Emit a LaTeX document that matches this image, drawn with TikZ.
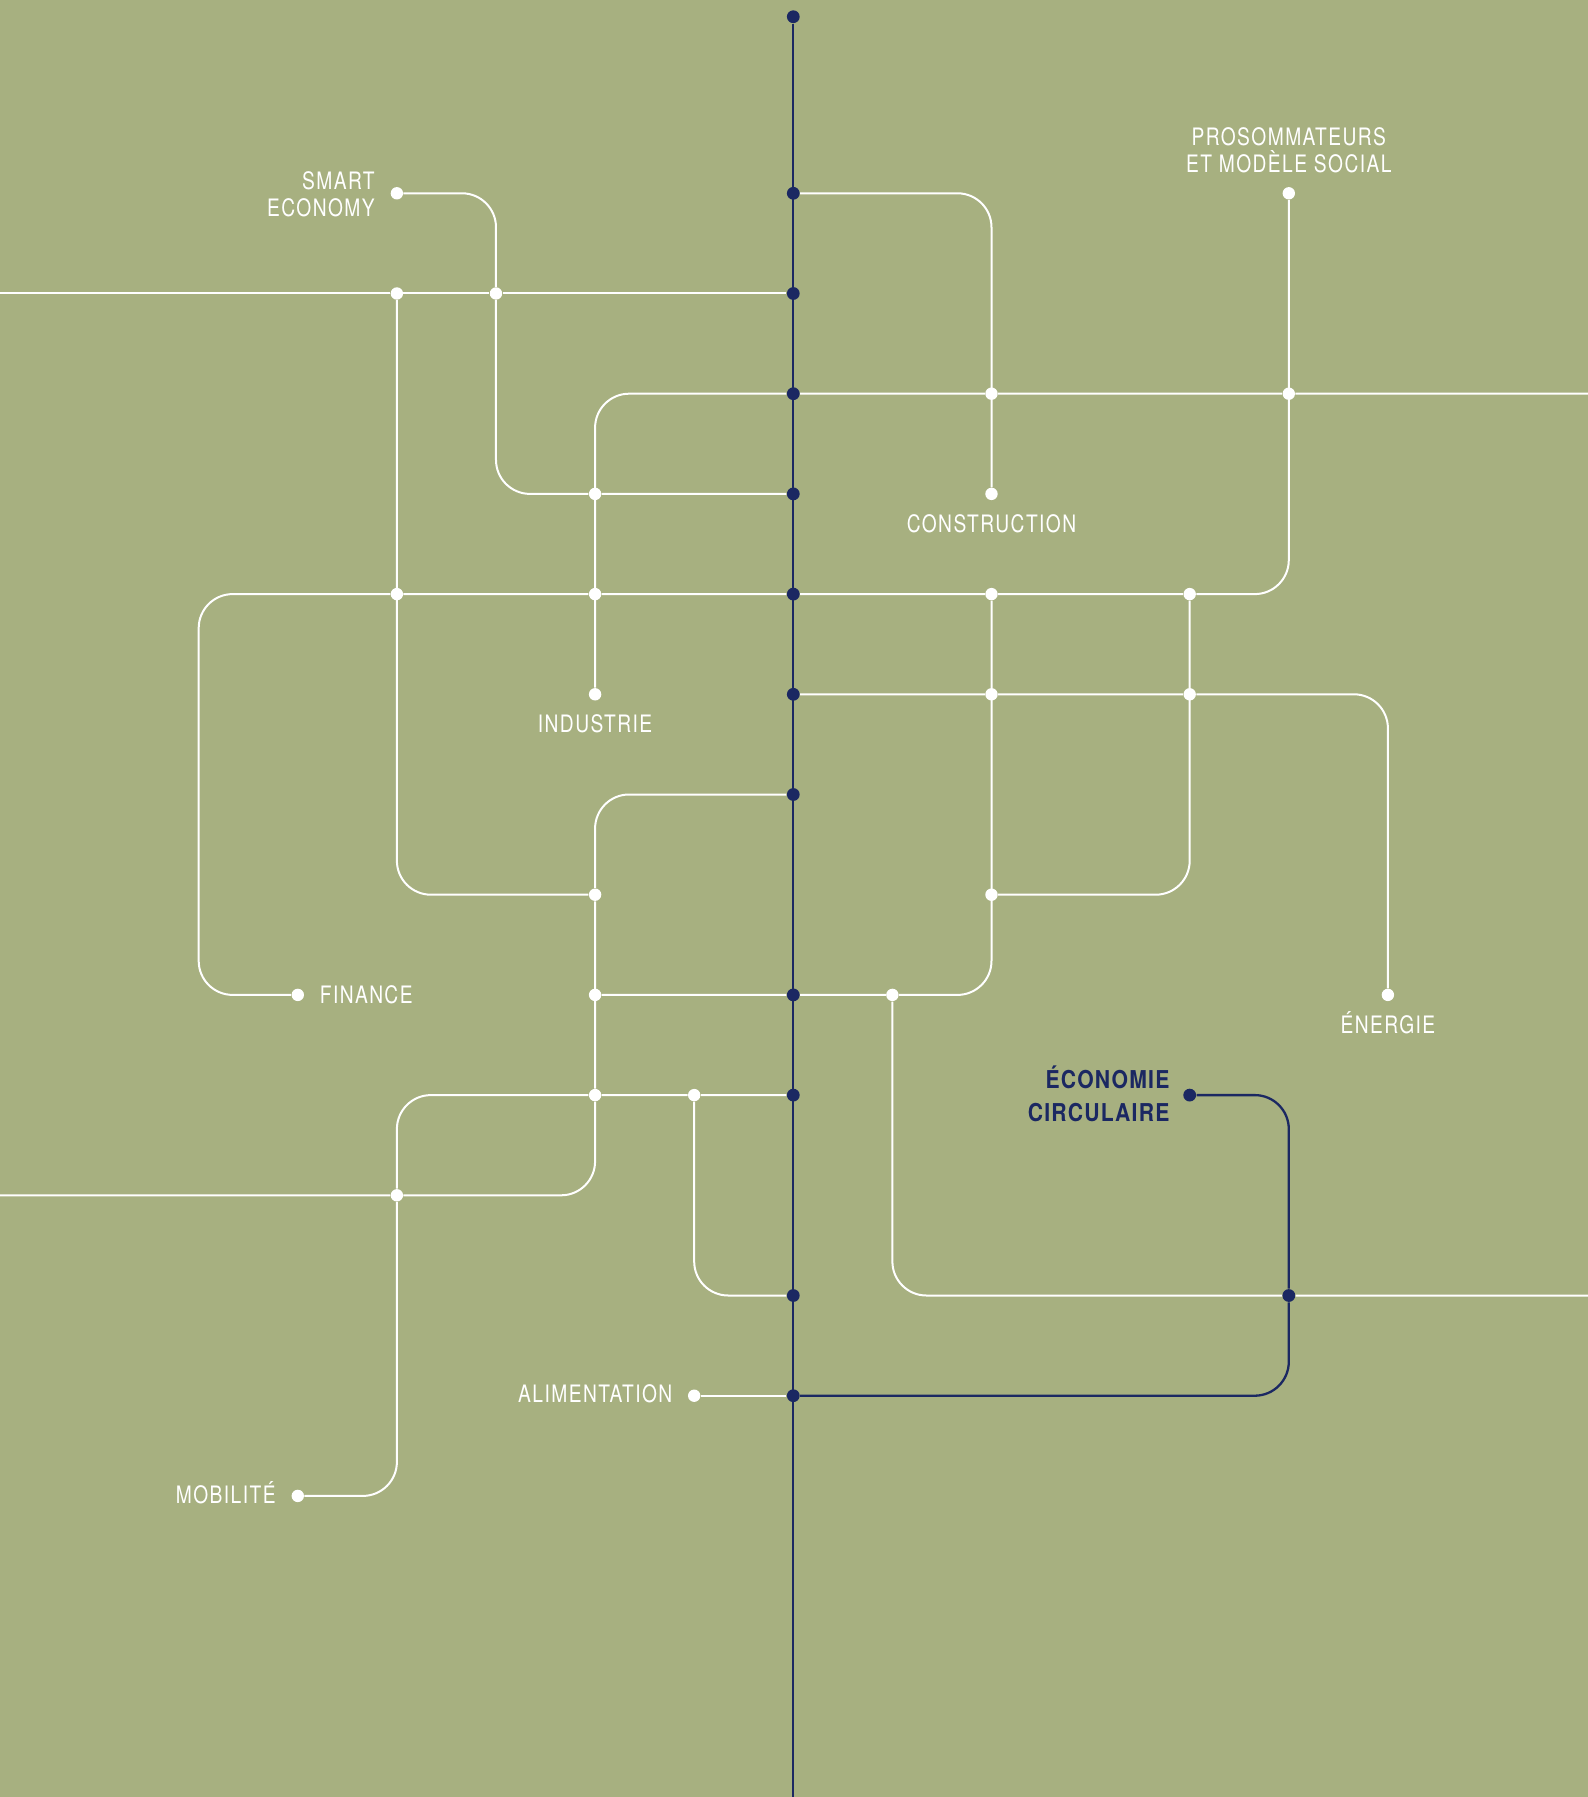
\documentclass[tikz,border=0pt]{standalone}
\usepackage{fontspec}
\newfontfamily\labelfont[FakeStretch=0.8,LetterSpace=6,BoldFeatures={FakeStretch=0.86,LetterSpace=5}]{TeX Gyre Heros}
\usetikzlibrary{positioning}
\definecolor{sage}{RGB}{167,176,128}
\definecolor{navy}{RGB}{27,40,98}

\begin{document}
\begin{tikzpicture}[x=49.55pt, y=-50.1pt,
    wline/.style={white, line width=1pt, rounded corners=17pt},
    nline/.style={navy, line width=1.15pt, rounded corners=17pt},
    wdot/.style={circle, fill=white, inner sep=0pt, minimum size=6.2pt},
    ndot/.style={circle, fill=navy, inner sep=0pt, minimum size=6.4pt},
    lab/.style={font=\labelfont\fontsize{12}{13.5}\selectfont, text=white, inner sep=0pt}]
  \fill[sage] (-8.005,-1.929) rectangle (8.019,16.005);
  \useasboundingbox (-8.005,-1.929) rectangle (8.019,16.005);

  % stations
  \foreach \r in {0,1,2,3,4,5,6,8,9,11,12}
    \node[ndot] (g\r) at (0,\r) {};
  \node[ndot] (gtop) at (0,-1.762) {};
  \node[ndot] (k9) at (4,9) {};
  \node[ndot] (l11) at (5,11) {};
  \foreach \n/\x/\y in {c0/-4/0, l0/5/0, c1/-4/1, d1/-3/1, i2/2/2, l2/5/2,
      e3/-2/3, i3/2/3, c4/-4/4, e4/-2/4, i4/2/4, k4/4/4, e5/-2/5, i5/2/5,
      k5/4/5, e7/-2/7, i7/2/7, b8/-5/8, e8/-2/8, h8/1/8, m8/6/8, e9/-2/9,
      f9/-1/9, c10/-4/10, f12/-1/12, b13/-5/13}
    \node[wdot] (\n) at (\x,\y) {};

  \coordinate (wl1) at (-8.005,1);
  \coordinate (wl10) at (-8.005,10);
  \coordinate (er2) at (8.019,2);
  \coordinate (er11) at (8.019,11);
  \coordinate (a4) at (-6,4);
  \coordinate (gbot) at (0,16.005);

  % white lines
  \draw[wline] (c0) -| (d1) |- (e3) -- (g3);
  \draw[wline] (wl1) -- (c1) -- (d1) -- (g1);
  \draw[wline] (c1) |- (e7);
  \draw[wline] (er2) -- (l2) -- (i2) -- (g2) -| (e5);
  \draw[wline] (g0) -| (i3);
  \draw[wline] (l0) |- (k4) -- (i4) -- (g4) -- (e4) -- (c4) -- (a4) |- (b8);
  \draw[wline] (g5) -- (i5) -- (k5) -| (m8);
  \draw[wline] (i4) |- (h8) -- (g8) -- (e8);
  \draw[wline] (k4) |- (i7);
  \draw[wline] (g6) -| (e7) -- (e9) |- (c10) -- (wl10);
  \draw[wline] (g9) -- (f9) -- (e9) -| (c10) |- (b13);
  \draw[wline] (f9) |- (g11);
  \draw[wline] (h8) |- (l11) -- (er11);
  \draw[wline] (f12) -- (g12);

  % navy lines
  \draw[nline] (k9) -| (l11) |- (g12);
  \draw[nline] (gtop) -- (gbot);

  % labels
  \node[lab, anchor=base east, align=right] (smartlab) at (-4.22,0.227) {SMART\\ECONOMY};
  \node[lab, anchor=base, align=center] (prolab) at (5,-0.212) {PROSOMMATEURS\\ET MODÈLE SOCIAL};
  \node[lab, anchor=base] (conslab) at (2,3.387) {CONSTRUCTION};
  \node[lab, anchor=base] (indlab) at (-2,5.383) {INDUSTRIE};
  \node[lab, anchor=base] (enlab) at (6,8.383) {ÉNERGIE};
  \node[lab, anchor=base west] (finlab) at (-4.78,8.084) {FINANCE};
  \node[lab, anchor=base east] (alimlab) at (-1.217,12.07) {ALIMENTATION};
  \node[lab, anchor=base east] (moblab) at (-5.22,13.08) {MOBILITÉ};
  \node[lab, font=\labelfont\bfseries\fontsize{12.3}{16.4}\selectfont, text=navy,
    anchor=base east, align=right] (ecolab) at (3.80,9.26) {ÉCONOMIE\\CIRCULAIRE};
\end{tikzpicture}
\end{document}
